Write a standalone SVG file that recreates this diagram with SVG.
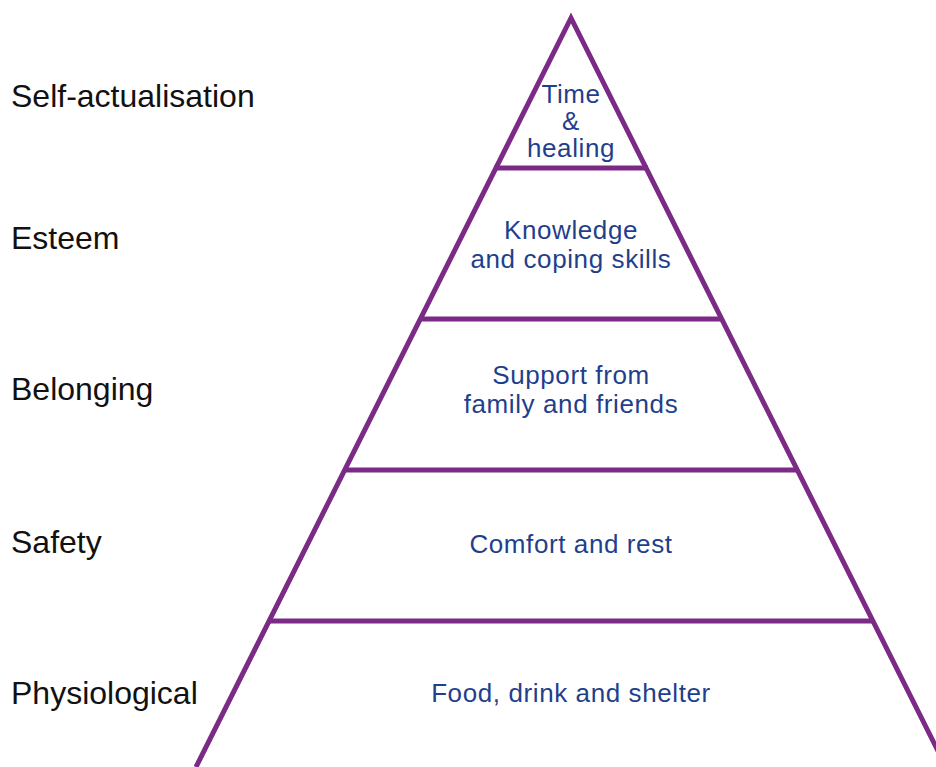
<svg xmlns="http://www.w3.org/2000/svg" width="936" height="767" viewBox="0 0 936 767">
<style>
.edge{stroke:#7b2a85;stroke-width:5;fill:none;stroke-linejoin:miter}
.lvl{font-family:"Liberation Sans",Arial,sans-serif;font-size:32px;fill:#111}
.in{font-family:"Liberation Sans",Arial,sans-serif;font-size:26px;letter-spacing:0.6px;fill:#1f3f8c;text-anchor:middle}
</style>
<rect width="936" height="767" fill="#fff"/>
<g id="connectors">
<path class="edge" d="M196,767 L571,18 L946,767"/>
<line class="edge" x1="494" y1="168" x2="648" y2="168"/>
<line class="edge" x1="419" y1="319" x2="723" y2="319"/>
<line class="edge" x1="344" y1="470" x2="798" y2="470"/>
<line class="edge" x1="268" y1="621" x2="874" y2="621"/>
</g>
<g id="level-self-actualisation">
<text class="lvl" x="11" y="107">Self-actualisation</text>
<text class="in" x="571" y="103">Time</text>
<text class="in" x="571" y="130">&amp;</text>
<text class="in" x="571" y="157">healing</text>
</g>
<g id="level-esteem">
<text class="lvl" x="11" y="249">Esteem</text>
<text class="in" x="571" y="239">Knowledge</text>
<text class="in" x="571" y="268">and coping skills</text>
</g>
<g id="level-belonging">
<text class="lvl" x="11" y="400">Belonging</text>
<text class="in" x="571" y="384">Support from</text>
<text class="in" x="571" y="413">family and friends</text>
</g>
<g id="level-safety">
<text class="lvl" x="11" y="553">Safety</text>
<text class="in" x="571" y="553">Comfort and rest</text>
</g>
<g id="level-physiological">
<text class="lvl" x="11" y="704">Physiological</text>
<text class="in" x="571" y="702">Food, drink and shelter</text>
</g>
</svg>
